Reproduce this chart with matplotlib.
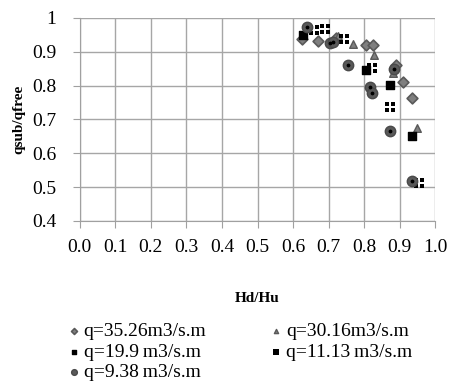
import matplotlib
matplotlib.use('Agg')
import matplotlib.pyplot as plt
from matplotlib.path import Path

plt.rcParams['font.family'] = ['Liberation Serif', 'DejaVu Serif']

# data
hd_35 = [0.624, 0.669, 0.720, 0.805, 0.826, 0.889, 0.908, 0.935]
q_35 = [0.937, 0.932, 0.942, 0.920, 0.920, 0.861, 0.810, 0.763]

hd_30 = [0.726, 0.768, 0.829, 0.882, 0.948]
q_30 = [0.946, 0.922, 0.891, 0.838, 0.676]

hd_19 = [0.629, 0.804, 0.873, 0.934]
q_19 = [0.950, 0.846, 0.802, 0.651]

hd_11 = [0.660, 0.690, 0.742, 0.823, 0.873, 0.953]
q_11 = [0.965, 0.966, 0.937, 0.853, 0.736, 0.513]

hd_9 = [0.639, 0.704, 0.713, 0.754, 0.816, 0.823, 0.884, 0.873, 0.934]
q_9 = [0.972, 0.925, 0.928, 0.861, 0.795, 0.777, 0.850, 0.666, 0.519]

labels = ['q=35.26m3/s.m', 'q=30.16m3/s.m', 'q=19.9\u2009m3/s.m',
          'q=11.13\u2009m3/s.m', 'q=9.38\u2009m3/s.m']

# four little squares marker
verts, codes = [], []
for cx, cy in [(-0.5, -0.5), (0.5, -0.5), (-0.5, 0.5), (0.5, 0.5)]:
    h = 0.4
    verts += [(cx - h, cy - h), (cx + h, cy - h), (cx + h, cy + h), (cx - h, cy + h), (cx - h, cy - h)]
    codes += [Path.MOVETO, Path.LINETO, Path.LINETO, Path.LINETO, Path.CLOSEPOLY]
quad = Path(verts, codes)

fig = plt.figure(figsize=(4.51, 3.91), dpi=100)
ax = fig.add_axes([0.177, 0.435, 0.788, 0.519])

h35 = ax.scatter(hd_35, q_35, marker='D', s=30, c='#7f7f7f', edgecolors='#595959', linewidths=1.2,
                 label=labels[0], zorder=3)
h30 = ax.scatter(hd_30, q_30, marker='^', s=30, c='#7f7f7f', edgecolors='#595959', linewidths=1.0,
                 label=labels[1], zorder=3)
h19 = ax.scatter(hd_19, q_19, marker='s', s=40, c='black', edgecolors='black',
                 label=labels[2], zorder=3)
h11 = ax.scatter(hd_11, q_11, marker=quad, s=48, c='black', linewidths=0,
                 label=labels[3], zorder=3)
h9 = ax.scatter(hd_9, q_9, marker='o', s=56, c='#595959', edgecolors='#4a4a4a',
                label=labels[4], zorder=3)
ax.scatter(hd_9, q_9, marker='o', s=3, c='black', zorder=4)

ax.set_xlim(0, 1.0)
ax.set_ylim(0.4, 1.0)
ax.set_xticks([i / 10 for i in range(11)])
ax.set_xticklabels([f'{i / 10:.1f}' for i in range(11)])
ax.set_yticks([0.4, 0.5, 0.6, 0.7, 0.8, 0.9, 1.0])
ax.set_yticklabels(['0.4', '0.5', '0.6', '0.7', '0.8', '0.9', '1'])
ax.tick_params(labelsize=14, length=5, color='#a0a0a0')
ax.tick_params(axis='x', pad=8)
ax.tick_params(axis='y', pad=12)
ax.grid(True, color='#a6a6a6', linewidth=1.0)
ax.set_axisbelow(True)
for s in ['top', 'right']:
    ax.spines[s].set_visible(False)
for s in ['left', 'bottom']:
    ax.spines[s].set_color('#a0a0a0')

ax.set_ylabel('qsub/qfree', fontsize=11, fontweight='bold', labelpad=5)
ax.set_xlabel('Hd/Hu', fontsize=11, fontweight='bold', labelpad=26)

# row-wise order like the original: column 1 then column 2
order = [h35, h19, h9, h30, h11]
leg = fig.legend(order, [o.get_label() for o in order],
                 loc='upper left', bbox_to_anchor=(0.108, 0.22), ncol=2, frameon=False,
                 fontsize=14, markerscale=0.55, handletextpad=0.1, handlelength=0.8,
                 columnspacing=3.2, labelspacing=0.15)

fig.savefig('out.png', dpi=100)
